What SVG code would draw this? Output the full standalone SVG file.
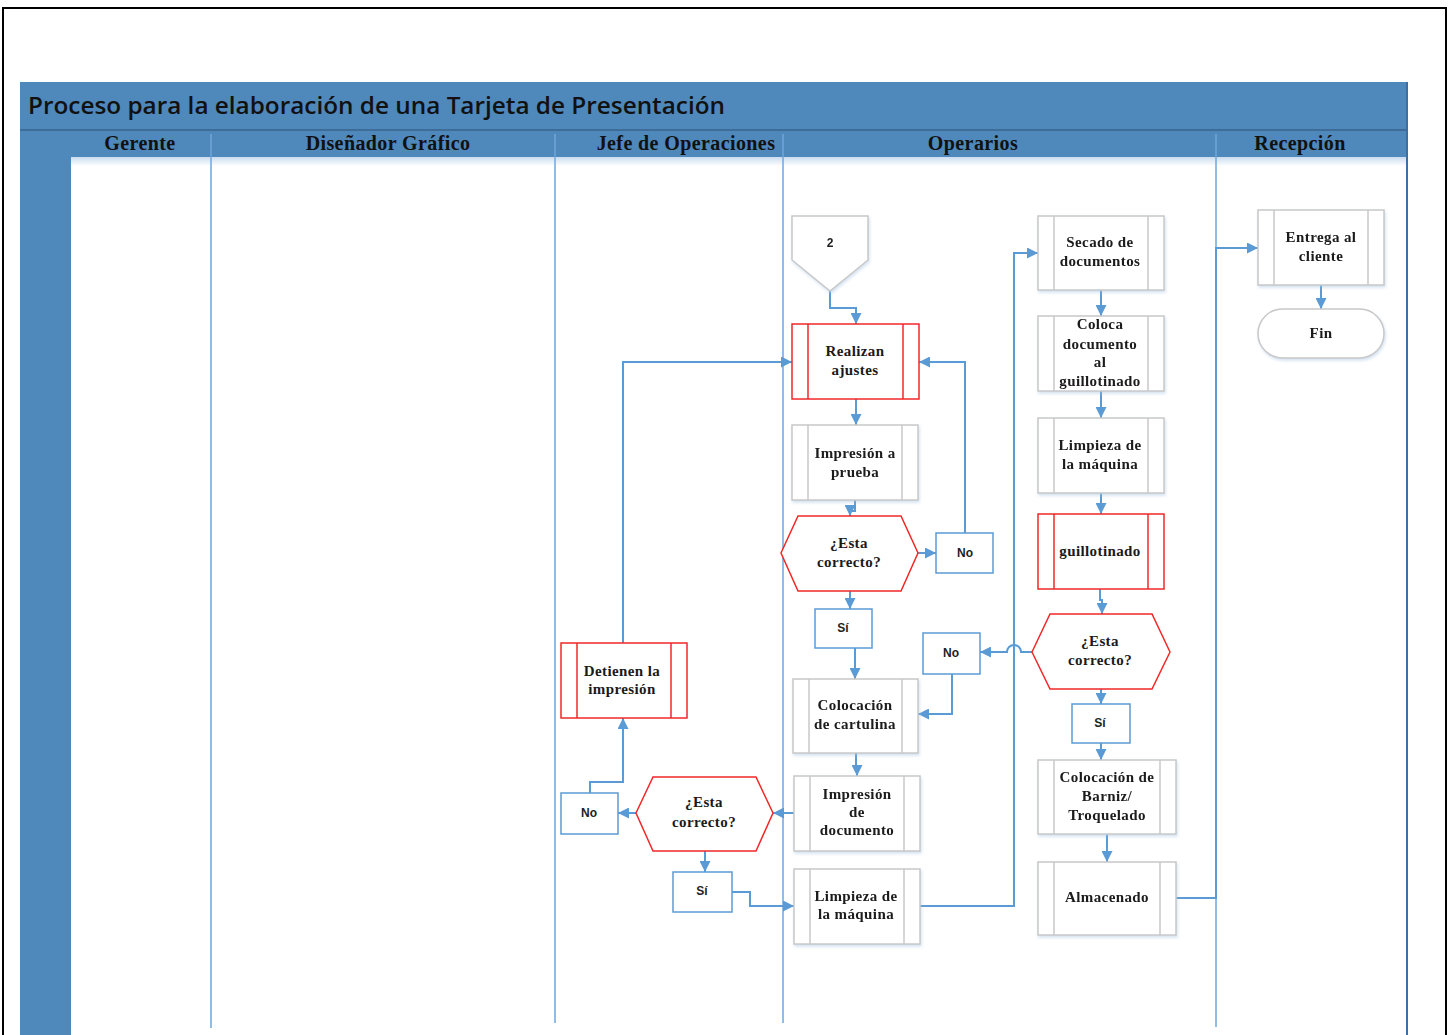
<svg xmlns="http://www.w3.org/2000/svg" width="1449" height="1035" viewBox="0 0 1449 1035">
  <defs>
    <marker id="arrow" viewBox="0 0 10 10" refX="10" refY="5" markerWidth="11" markerHeight="11" markerUnits="userSpaceOnUse" orient="auto">
      <path d="M0,0 L10,5 L0,10 z" fill="#5b9bd5"/>
    </marker>
    <linearGradient id="headShade" x1="0" y1="0" x2="0" y2="1">
      <stop offset="0" stop-color="#c9dcef"/>
      <stop offset="1" stop-color="#ffffff"/>
    </linearGradient>
    <filter id="shadow" x="-10%" y="-10%" width="125%" height="130%">
      <feDropShadow dx="1" dy="2" stdDeviation="1.5" flood-color="#9fbfe0" flood-opacity="0.45"/>
    </filter>
    <style>
      .lane-title { font-family: "Liberation Serif", "Times New Roman", serif; font-weight: bold; font-size: 20px; fill: #111; text-anchor: middle; letter-spacing: 0.4px; }
      .label { font-family: "Liberation Serif", "Times New Roman", serif; font-weight: bold; font-size: 15px; fill: #1a1a1a; text-anchor: middle; letter-spacing: 0.4px; }
      .small { font-family: "Liberation Sans", Arial, sans-serif; font-weight: bold; font-size: 12px; fill: #222; text-anchor: middle; }
      .proc { fill: #ffffff; stroke: #c8c8c8; stroke-width: 1.5; }
      .proc-line { stroke: #c8c8c8; stroke-width: 1.5; }
      .alert { fill: #ffffff; stroke: #f02828; stroke-width: 1.5; }
      .alert-line { stroke: #f02828; stroke-width: 1.5; }
      .tag { fill: #ffffff; stroke: #5b9bd5; stroke-width: 1.5; }
      .lane-div { stroke: #6fa6dc; stroke-width: 1.5; }
      .flow { fill: none; stroke: #5b9bd5; stroke-width: 2; marker-end: url(#arrow); }
    </style>
  </defs>

  <rect width="1449" height="1035" fill="#ffffff"/>
  <!-- page frame -->
  <rect x="3" y="8" width="1443" height="1040" fill="none" stroke="#000" stroke-width="2"/>

  <!-- swimlane pool -->
  <g id="pool">
    <rect x="20" y="82" width="1387" height="48" fill="#4f88bb"/>
    <text x="28" y="114" font-family="'Open Sans', 'Liberation Sans', sans-serif" font-weight="600" font-size="23" fill="#111" textLength="697" lengthAdjust="spacingAndGlyphs">Proceso para la elaboración de una Tarjeta de Presentación</text>
    <rect x="20" y="130" width="1387" height="27" fill="#4f88bb"/>
    <line x1="20" y1="130" x2="1407" y2="130" stroke="#3d6c99" stroke-width="2"/>
    <rect x="20" y="157" width="51" height="878" fill="#4f88bb"/>
    <rect x="71" y="157" width="1336" height="9" fill="url(#headShade)"/>
    <text class="lane-title" x="140" y="150">Gerente</text>
    <text class="lane-title" x="388" y="150">Diseñador Gráfico</text>
    <text class="lane-title" x="686" y="150">Jefe de Operaciones</text>
    <text class="lane-title" x="973" y="150">Operarios</text>
    <text class="lane-title" x="1300" y="150">Recepción</text>
    <line class="lane-div" x1="211" y1="134" x2="211" y2="1028"/>
    <line class="lane-div" x1="555" y1="134" x2="555" y2="1023"/>
    <line class="lane-div" x1="783" y1="134" x2="783" y2="1023"/>
    <line class="lane-div" x1="1216" y1="134" x2="1216" y2="1027"/>
    <line x1="1407" y1="82" x2="1407" y2="1035" stroke="#3d6fa3" stroke-width="2"/>
  </g>

  <!-- connectors -->
  <g id="connectors">
    <path class="flow" d="M830,291 V308 H856 V324"/>
    <path class="flow" d="M856,399 V425"/>
    <path class="flow" d="M855,500 V511 H850 V516"/>
    <path class="flow" d="M918,553 H936"/>
    <path class="flow" d="M965,533 V362 H919"/>
    <path class="flow" d="M850,591 V609"/>
    <path class="flow" d="M855,648 V679"/>
    <path class="flow" d="M856,753 V766 H857 V776"/>
    <path class="flow" d="M794,813 H773"/>
    <path class="flow" d="M636,813 H618"/>
    <path class="flow" d="M590,793 V782 H623 V718"/>
    <path class="flow" d="M623,643 V362 H792"/>
    <path class="flow" d="M705,851 V872"/>
    <path class="flow" d="M732,892 H750 V906 H794"/>
    <path class="flow" d="M920,906 H1014 V253 H1038"/>
    <path class="flow" d="M1101,290 V316"/>
    <path class="flow" d="M1101,391 V418"/>
    <path class="flow" d="M1101,493 V514"/>
    <path class="flow" d="M1100,589 V600 H1102 V614"/>
    <path class="flow" d="M1032,652 H1021 a7,7 0 0 0 -14,0 H980"/>
    <path class="flow" d="M952,674 V714 H918"/>
    <path class="flow" d="M1101,689 V704"/>
    <path class="flow" d="M1101,743 V760"/>
    <path class="flow" d="M1107,834 V862"/>
    <path class="flow" d="M1176,898 H1216 V248 H1258"/>
    <path class="flow" d="M1321,285 V309"/>
  </g>

  <!-- operarios lane -->
  <g id="conector-2" filter="url(#shadow)">
    <path d="M792,216 H868 V260 L830,291 L792,260 Z" fill="#fff" stroke="#c8c8c8" stroke-width="1.5"/>
    <text class="small" x="830" y="247" font-size="11">2</text>
  </g>

  <g id="realizan-ajustes">
    <rect class="alert" x="792" y="324" width="127" height="75"/>
    <line class="alert-line" x1="808" y1="324" x2="808" y2="399"/>
    <line class="alert-line" x1="903" y1="324" x2="903" y2="399"/>
    <text class="label" x="855" y="356">Realizan</text>
    <text class="label" x="855" y="375">ajustes</text>
  </g>

  <g id="impresion-prueba" filter="url(#shadow)">
    <rect class="proc" x="792" y="425" width="126" height="75"/>
    <line class="proc-line" x1="808" y1="425" x2="808" y2="500"/>
    <line class="proc-line" x1="902" y1="425" x2="902" y2="500"/>
    <text class="label" x="855" y="458">Impresión a</text>
    <text class="label" x="855" y="477">prueba</text>
  </g>

  <g id="decision-prueba">
    <polygon class="alert" points="781,553 798,516 901,516 918,553 901,591 798,591"/>
    <text class="label" x="849" y="548">¿Esta</text>
    <text class="label" x="849" y="567">correcto?</text>
  </g>

  <g id="no-prueba">
    <rect class="tag" x="936" y="533" width="57" height="40"/>
    <text class="small" x="965" y="557">No</text>
  </g>

  <g id="si-prueba">
    <rect class="tag" x="815" y="609" width="57" height="39"/>
    <text class="small" x="843" y="632">Sí</text>
  </g>

  <g id="colocacion-cartulina" filter="url(#shadow)">
    <rect class="proc" x="793" y="679" width="125" height="74"/>
    <line class="proc-line" x1="809" y1="679" x2="809" y2="753"/>
    <line class="proc-line" x1="902" y1="679" x2="902" y2="753"/>
    <text class="label" x="855" y="710">Colocación</text>
    <text class="label" x="855" y="729">de cartulina</text>
  </g>

  <g id="impresion-documento" filter="url(#shadow)">
    <rect class="proc" x="794" y="776" width="126" height="75"/>
    <line class="proc-line" x1="810" y1="776" x2="810" y2="851"/>
    <line class="proc-line" x1="904" y1="776" x2="904" y2="851"/>
    <text class="label" x="857" y="799">Impresión</text>
    <text class="label" x="857" y="817">de</text>
    <text class="label" x="857" y="835">documento</text>
  </g>

  <g id="limpieza-maquina-1" filter="url(#shadow)">
    <rect class="proc" x="794" y="869" width="126" height="75"/>
    <line class="proc-line" x1="810" y1="869" x2="810" y2="944"/>
    <line class="proc-line" x1="904" y1="869" x2="904" y2="944"/>
    <text class="label" x="856" y="901">Limpieza de</text>
    <text class="label" x="856" y="919">la máquina</text>
  </g>

  <!-- jefe de operaciones lane -->
  <g id="decision-documento">
    <polygon class="alert" points="636,813 653,777 756,777 773,813 756,851 653,851"/>
    <text class="label" x="704" y="807">¿Esta</text>
    <text class="label" x="704" y="827">correcto?</text>
  </g>

  <g id="no-documento">
    <rect class="tag" x="561" y="793" width="57" height="41"/>
    <text class="small" x="589" y="817">No</text>
  </g>

  <g id="si-documento">
    <rect class="tag" x="673" y="872" width="59" height="40"/>
    <text class="small" x="702" y="895">Sí</text>
  </g>

  <g id="detienen-impresion">
    <rect class="alert" x="561" y="643" width="126" height="75"/>
    <line class="alert-line" x1="577" y1="643" x2="577" y2="718"/>
    <line class="alert-line" x1="671" y1="643" x2="671" y2="718"/>
    <text class="label" x="622" y="676">Detienen la</text>
    <text class="label" x="622" y="694">impresión</text>
  </g>

  <!-- operarios lane, second column -->
  <g id="secado-documentos" filter="url(#shadow)">
    <rect class="proc" x="1038" y="216" width="126" height="74"/>
    <line class="proc-line" x1="1054" y1="216" x2="1054" y2="290"/>
    <line class="proc-line" x1="1148" y1="216" x2="1148" y2="290"/>
    <text class="label" x="1100" y="247">Secado de</text>
    <text class="label" x="1100" y="266">documentos</text>
  </g>

  <g id="coloca-documento" filter="url(#shadow)">
    <rect class="proc" x="1038" y="316" width="126" height="75"/>
    <line class="proc-line" x1="1054" y1="316" x2="1054" y2="391"/>
    <line class="proc-line" x1="1148" y1="316" x2="1148" y2="391"/>
    <text class="label" x="1100" y="329">Coloca</text>
    <text class="label" x="1100" y="349">documento</text>
    <text class="label" x="1100" y="367">al</text>
    <text class="label" x="1100" y="386">guillotinado</text>
  </g>

  <g id="limpieza-maquina-2" filter="url(#shadow)">
    <rect class="proc" x="1038" y="418" width="126" height="75"/>
    <line class="proc-line" x1="1054" y1="418" x2="1054" y2="493"/>
    <line class="proc-line" x1="1148" y1="418" x2="1148" y2="493"/>
    <text class="label" x="1100" y="450">Limpieza de</text>
    <text class="label" x="1100" y="469">la máquina</text>
  </g>

  <g id="guillotinado">
    <rect class="alert" x="1038" y="514" width="126" height="75"/>
    <line class="alert-line" x1="1054" y1="514" x2="1054" y2="589"/>
    <line class="alert-line" x1="1148" y1="514" x2="1148" y2="589"/>
    <text class="label" x="1100" y="556">guillotinado</text>
  </g>

  <g id="decision-guillotinado">
    <polygon class="alert" points="1032,652 1050,614 1152,614 1170,652 1152,689 1050,689"/>
    <text class="label" x="1100" y="646">¿Esta</text>
    <text class="label" x="1100" y="665">correcto?</text>
  </g>

  <g id="no-guillotinado">
    <rect class="tag" x="923" y="633" width="57" height="41"/>
    <text class="small" x="951" y="657">No</text>
  </g>

  <g id="si-guillotinado">
    <rect class="tag" x="1072" y="704" width="58" height="39"/>
    <text class="small" x="1100" y="727">Sí</text>
  </g>

  <g id="barniz-troquelado" filter="url(#shadow)">
    <rect class="proc" x="1038" y="760" width="138" height="74"/>
    <line class="proc-line" x1="1054" y1="760" x2="1054" y2="834"/>
    <line class="proc-line" x1="1160" y1="760" x2="1160" y2="834"/>
    <text class="label" x="1107" y="782">Colocación de</text>
    <text class="label" x="1107" y="801">Barniz/</text>
    <text class="label" x="1107" y="820">Troquelado</text>
  </g>

  <g id="almacenado" filter="url(#shadow)">
    <rect class="proc" x="1038" y="862" width="138" height="73"/>
    <line class="proc-line" x1="1054" y1="862" x2="1054" y2="935"/>
    <line class="proc-line" x1="1160" y1="862" x2="1160" y2="935"/>
    <text class="label" x="1107" y="902">Almacenado</text>
  </g>

  <!-- recepcion lane -->
  <g id="entrega-cliente" filter="url(#shadow)">
    <rect class="proc" x="1258" y="210" width="126" height="75"/>
    <line class="proc-line" x1="1274" y1="210" x2="1274" y2="285"/>
    <line class="proc-line" x1="1368" y1="210" x2="1368" y2="285"/>
    <text class="label" x="1321" y="242">Entrega al</text>
    <text class="label" x="1321" y="261">cliente</text>
  </g>

  <g id="fin" filter="url(#shadow)">
    <rect class="proc" x="1258" y="309" width="126" height="49" rx="24.5" ry="24.5"/>
    <text class="label" x="1321" y="338">Fin</text>
  </g>
</svg>
